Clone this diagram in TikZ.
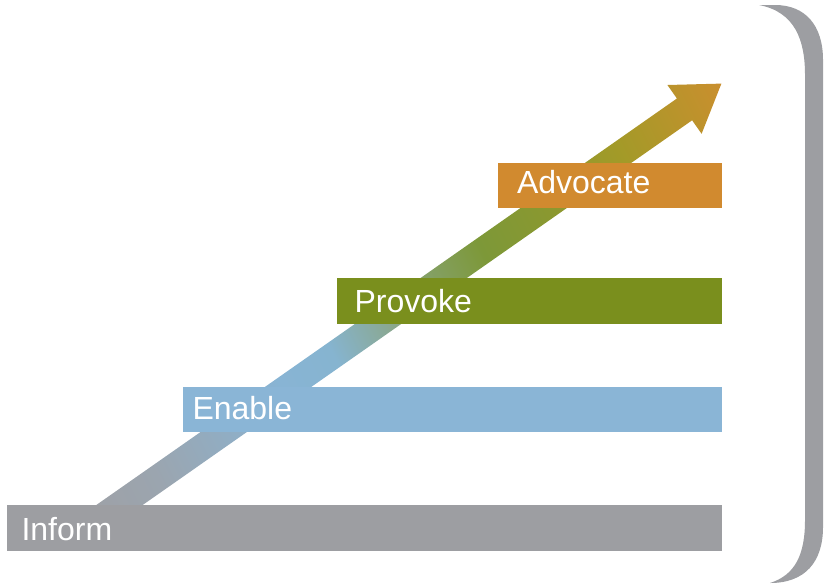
\documentclass[tikz,border=0pt]{standalone}
\usepackage{fontspec}
\setmainfont{Liberation Sans}
\definecolor{cgray}{HTML}{9D9EA2}
\definecolor{cblue}{HTML}{8AB5D6}
\definecolor{cgreen}{HTML}{7A8F1D}
\definecolor{corange}{HTML}{D18A2F}
\definecolor{a0}{HTML}{9EA1A7}
\definecolor{a1}{HTML}{9BA5AF}
\definecolor{a2}{HTML}{88B4D4}
\definecolor{a3}{HTML}{86B4D0}
\definecolor{a4}{HTML}{8AA78C}
\definecolor{a5}{HTML}{7D9838}
\definecolor{a6}{HTML}{8A9830}
\definecolor{a7}{HTML}{A39A28}
\definecolor{a8}{HTML}{C98F2E}
\pgfdeclarehorizontalshading{arrowshade}{100bp}{color(0bp)=(a0); color(17.5bp)=(a0); color(24bp)=(a1); color(37.3bp)=(a2); color(42.6bp)=(a3); color(48.6bp)=(a4); color(58.4bp)=(a5); color(65bp)=(a6); color(73bp)=(a7); color(83.5bp)=(a8); color(100bp)=(a8)}
\begin{document}
\begin{tikzpicture}[x=1pt,y=-1pt,
  bar/.style={rectangle, draw=none, inner sep=0pt, outer sep=0pt, anchor=north west, minimum height=45.5pt},
  lbl/.style={anchor=base west, inner sep=0pt, outer sep=0pt, text=white, font=\fontsize{32}{32}\selectfont}]
\useasboundingbox (0,0) rectangle (826,584);
% bracket
\fill[cgray] (759,5) -- (775,5) .. controls (805,5) and (823,25) .. (823,60)
  -- (823,527) .. controls (823,562) and (805,583) .. (770,583)
  .. controls (795,575) and (805,555) .. (805,520)
  -- (805,75) .. controls (805,40) and (795,12) .. (759,5) -- cycle;
% arrow
\shade[shading=arrowshade, shading angle=26.5]
  (87.3,511.3) -- (676.9,98.5) -- (667.4,85.0) -- (721.4,83.6)
  -- (701.6,133.8) -- (692.1,120.3) -- (102.5,533.1) -- cycle;
% bars
\node[bar, fill=cgray, minimum width=715pt] (inform) at (7,505) {};
\node[bar, fill=cblue, minimum width=539pt] (enable) at (183,386.5) {};
\node[bar, fill=cgreen, minimum width=385pt] (provoke) at (337,278) {};
\node[bar, fill=corange, minimum width=224pt] (advocate) at (498,162.5) {};
% labels
\node[lbl] (tinform) at (21.5,540) {Inform};
\node[lbl] (tenable) at (192.5,419) {Enable};
\node[lbl] (tprovoke) at (354.5,312) {Provoke};
\node[lbl] (tadvocate) at (517,193) {Advocate};
\end{tikzpicture}
\end{document}
